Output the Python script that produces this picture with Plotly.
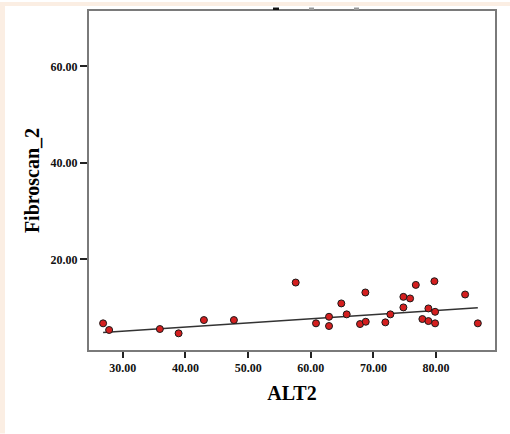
import plotly.graph_objects as go
import numpy as np

# Data
alt2 = [26.85, 27.81, 35.91, 38.90, 42.94, 47.73, 57.59, 60.83, 62.91, 62.91,
        64.87, 65.73, 67.86, 68.71, 68.77, 71.90, 72.70, 74.78, 74.78, 75.85,
        76.76, 77.81, 78.77, 78.77, 79.73, 79.84, 79.84, 84.63, 86.66]
fibroscan_2 = [6.73, 5.35, 5.55, 4.66, 7.41, 7.41, 15.19, 6.73, 8.09, 6.17,
               10.86, 8.59, 6.58, 13.13, 7.06, 6.93, 8.59, 12.22, 10.03, 11.89,
               14.70, 7.62, 9.82, 7.20, 15.46, 9.12, 6.73, 12.71, 6.73]
fit_intercept = 2.56
fit_slope = 0.0853

x_ticks = [30, 40, 50, 60, 70, 80]
x_tick_labels = ["30.00", "40.00", "50.00", "60.00", "70.00", "80.00"]
y_ticks = [20, 40, 60]
y_tick_labels = ["20.00", "40.00", "60.00"]

W, H = 510, 434
ML, MR, MT, MB = 89, 15, 9, 84
pw = W - ML - MR
ph = H - MT - MB

font_serif = "Liberation Serif"

fig = go.Figure()

xf = np.array([min(alt2), max(alt2)])
yf = fit_intercept + fit_slope * xf
fig.add_trace(go.Scatter(x=xf, y=yf, mode="lines",
                         line=dict(color="#333333", width=1.5),
                         hoverinfo="skip", showlegend=False))

fig.add_trace(go.Scatter(x=alt2, y=fibroscan_2, mode="markers",
                         marker=dict(color="#d41f1f", size=7, symbol="circle",
                                     line=dict(color="#1a1a1a", width=1)),
                         showlegend=False))


def px_x(p):
    return (p - ML) / pw


def px_y(p):
    return 1 - (p - MT) / ph


# peach border strips on left and top of the image
peach = "#fbeee3"
fig.add_shape(type="rect", xref="paper", yref="paper", layer="below",
              x0=px_x(0), x1=px_x(5), y0=px_y(H), y1=px_y(0),
              fillcolor=peach, line=dict(width=0))
fig.add_shape(type="rect", xref="paper", yref="paper", layer="below",
              x0=px_x(0), x1=px_x(W), y0=px_y(4), y1=px_y(0),
              fillcolor=peach, line=dict(width=0))

# small cut-off marks above the frame
for (a, b, col) in [(273, 279, "#111111"), (309, 314, "#999999"), (354, 359, "#999999")]:
    fig.add_shape(type="rect", xref="paper", yref="paper",
                  x0=px_x(a), x1=px_x(b), y0=px_y(8), y1=px_y(5.5),
                  fillcolor=col, line=dict(width=0))

fig.update_layout(
    width=W, height=H,
    margin=dict(l=ML, r=MR, t=MT, b=MB),
    paper_bgcolor="white", plot_bgcolor="white",
    font=dict(family=font_serif, color="black"),
    xaxis=dict(range=[24.6, 89.4], tickvals=x_ticks, ticktext=x_tick_labels,
               showgrid=False, zeroline=False, showline=True, mirror=True,
               linecolor="#7a7a7a", linewidth=2,
               ticks="outside", ticklen=6, tickwidth=2, tickcolor="#222",
               tickfont=dict(family=font_serif, size=12, color="#111", weight="bold"),
               title=dict(text="<b>ALT2</b>", font=dict(family=font_serif, size=20),
                          standoff=12)),
    yaxis=dict(range=[1.2, 71.5], tickvals=y_ticks, ticktext=y_tick_labels,
               showgrid=False, zeroline=False, showline=True, mirror=True,
               linecolor="#7a7a7a", linewidth=2,
               ticks="outside", ticklen=7, tickwidth=2, tickcolor="#222",
               tickfont=dict(family=font_serif, size=12, color="#111", weight="bold"),
               title=dict(text="<b>Fibroscan_2</b>", font=dict(family=font_serif, size=20),
                          standoff=6)),
)

fig.write_html("out.html", config={"displayModeBar": False},
               post_script="document.body.style.margin='0';")
